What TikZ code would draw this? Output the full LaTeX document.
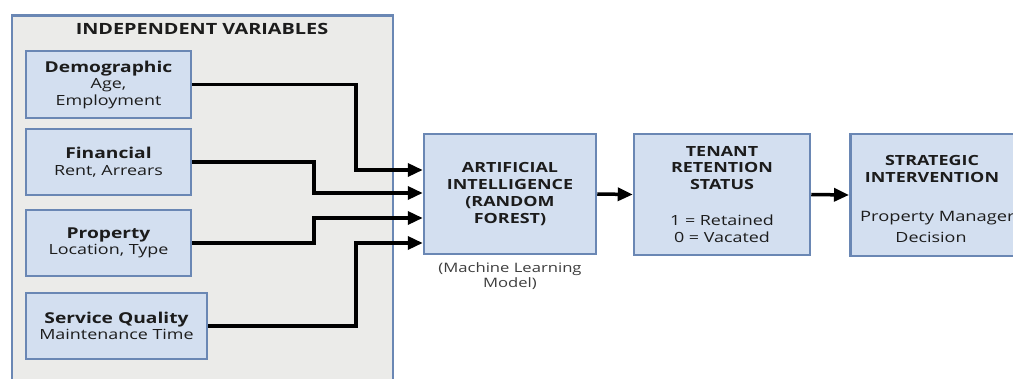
\documentclass[tikz,border=0pt]{standalone}
\usepackage{fontspec}
\setmainfont{Open Sans}[FakeStretch=1.28]
\usetikzlibrary{arrows.meta}
\definecolor{boxfill}{HTML}{D3DFF0}
\definecolor{boxdraw}{HTML}{6A87B4}
\definecolor{panel}{HTML}{EBEBE9}
\definecolor{ink}{HTML}{1C1C1C}
\begin{document}
\begin{tikzpicture}[x=1pt,y=-1pt,
  box/.style={draw=boxdraw, fill=boxfill, line width=2.5pt, inner sep=0pt, align=center, text=ink,
    font=\fontsize{14}{16.5}\selectfont},
  conn/.style={draw=black, line width=3.5pt, -{Triangle[length=15pt,width=13pt]}},
  head/.style={font=\fontsize{15}{17}\selectfont\bfseries}]
\useasboundingbox (0,0) rectangle (1013,379);
\clip (0,0) rectangle (1013,379);
\fill[white] (0,0) rectangle (1013,379);
% panel
\node[draw=boxdraw, fill=panel, line width=2.5pt, minimum width=381pt, minimum height=380pt, anchor=north west, inner sep=0pt] (panel) at (10.5,14.5) {};
\node[text=ink, font=\fontsize{15.5}{17}\selectfont\bfseries] (title) at (202,29) {INDEPENDENT VARIABLES};
% input boxes
\node[box, minimum width=165pt, minimum height=67pt] (dem) at (108.5,84.5)
  {{\fontsize{15}{16.5}\selectfont\bfseries Demographic}\\Age,\\Employment};
\node[box, minimum width=165pt, minimum height=66pt] (fin) at (108.5,162)
  {{\fontsize{15}{17.5}\selectfont\bfseries Financial}\\Rent, Arrears};
\node[box, minimum width=165pt, minimum height=66pt] (prop) at (108.5,243)
  {{\fontsize{15}{17.5}\selectfont\bfseries Property}\\Location, Type};
\node[box, minimum width=181pt, minimum height=66pt] (serv) at (116.5,326)
  {{\fontsize{15}{17.5}\selectfont\bfseries Service Quality}\\Maintenance Time};
% AI box
\node[box, minimum width=172pt, minimum height=120pt, font=\fontsize{14}{16.8}\selectfont\bfseries] (ai) at (510,194)
  {ARTIFICIAL\\INTELLIGENCE\\(RANDOM\\FOREST)};
\node[text=ink!85, align=center, font=\fontsize{13}{15}\selectfont] (ml) at (510,276) {(Machine Learning\\Model)};
% tenant box
\node[box, minimum width=176pt, minimum height=121pt] (ten) at (722,194.5)
  {{\bfseries TENANT}\\{\bfseries RETENTION}\\{\bfseries STATUS}\\[20pt]1 = Retained\\0 = Vacated};
% strategic box
\node[box, minimum width=168pt, minimum height=122pt, anchor=west] (str) at (849,195) {};
\node[text=ink, align=center, font=\fontsize{14}{17.5}\selectfont\bfseries] (strt) at (932,169) {STRATEGIC\\INTERVENTION};
\node[text=ink, font=\fontsize{14.3}{16.5}\selectfont, anchor=west, inner sep=0pt] (pm) at (860,218) {Property Manager};
\node[text=ink, font=\fontsize{14}{16.5}\selectfont] (dec) at (931,237) {Decision};
% connectors
\draw[conn] (dem.east) -- (356,84.5) |- ([yshift=24pt]ai.west);
\draw[conn] (fin.east) -- (314,162) |- ([yshift=1pt]ai.west);
\draw[conn] (prop.east) -- (314,243) |- ([yshift=-24pt]ai.west);
\draw[conn] (serv.east) -- (356,326) |- ([yshift=-49pt]ai.west);
\draw[conn] (ai.east) -- (ten.west);
\draw[conn] (ten.east) -- (str.west);
\end{tikzpicture}
\end{document}
